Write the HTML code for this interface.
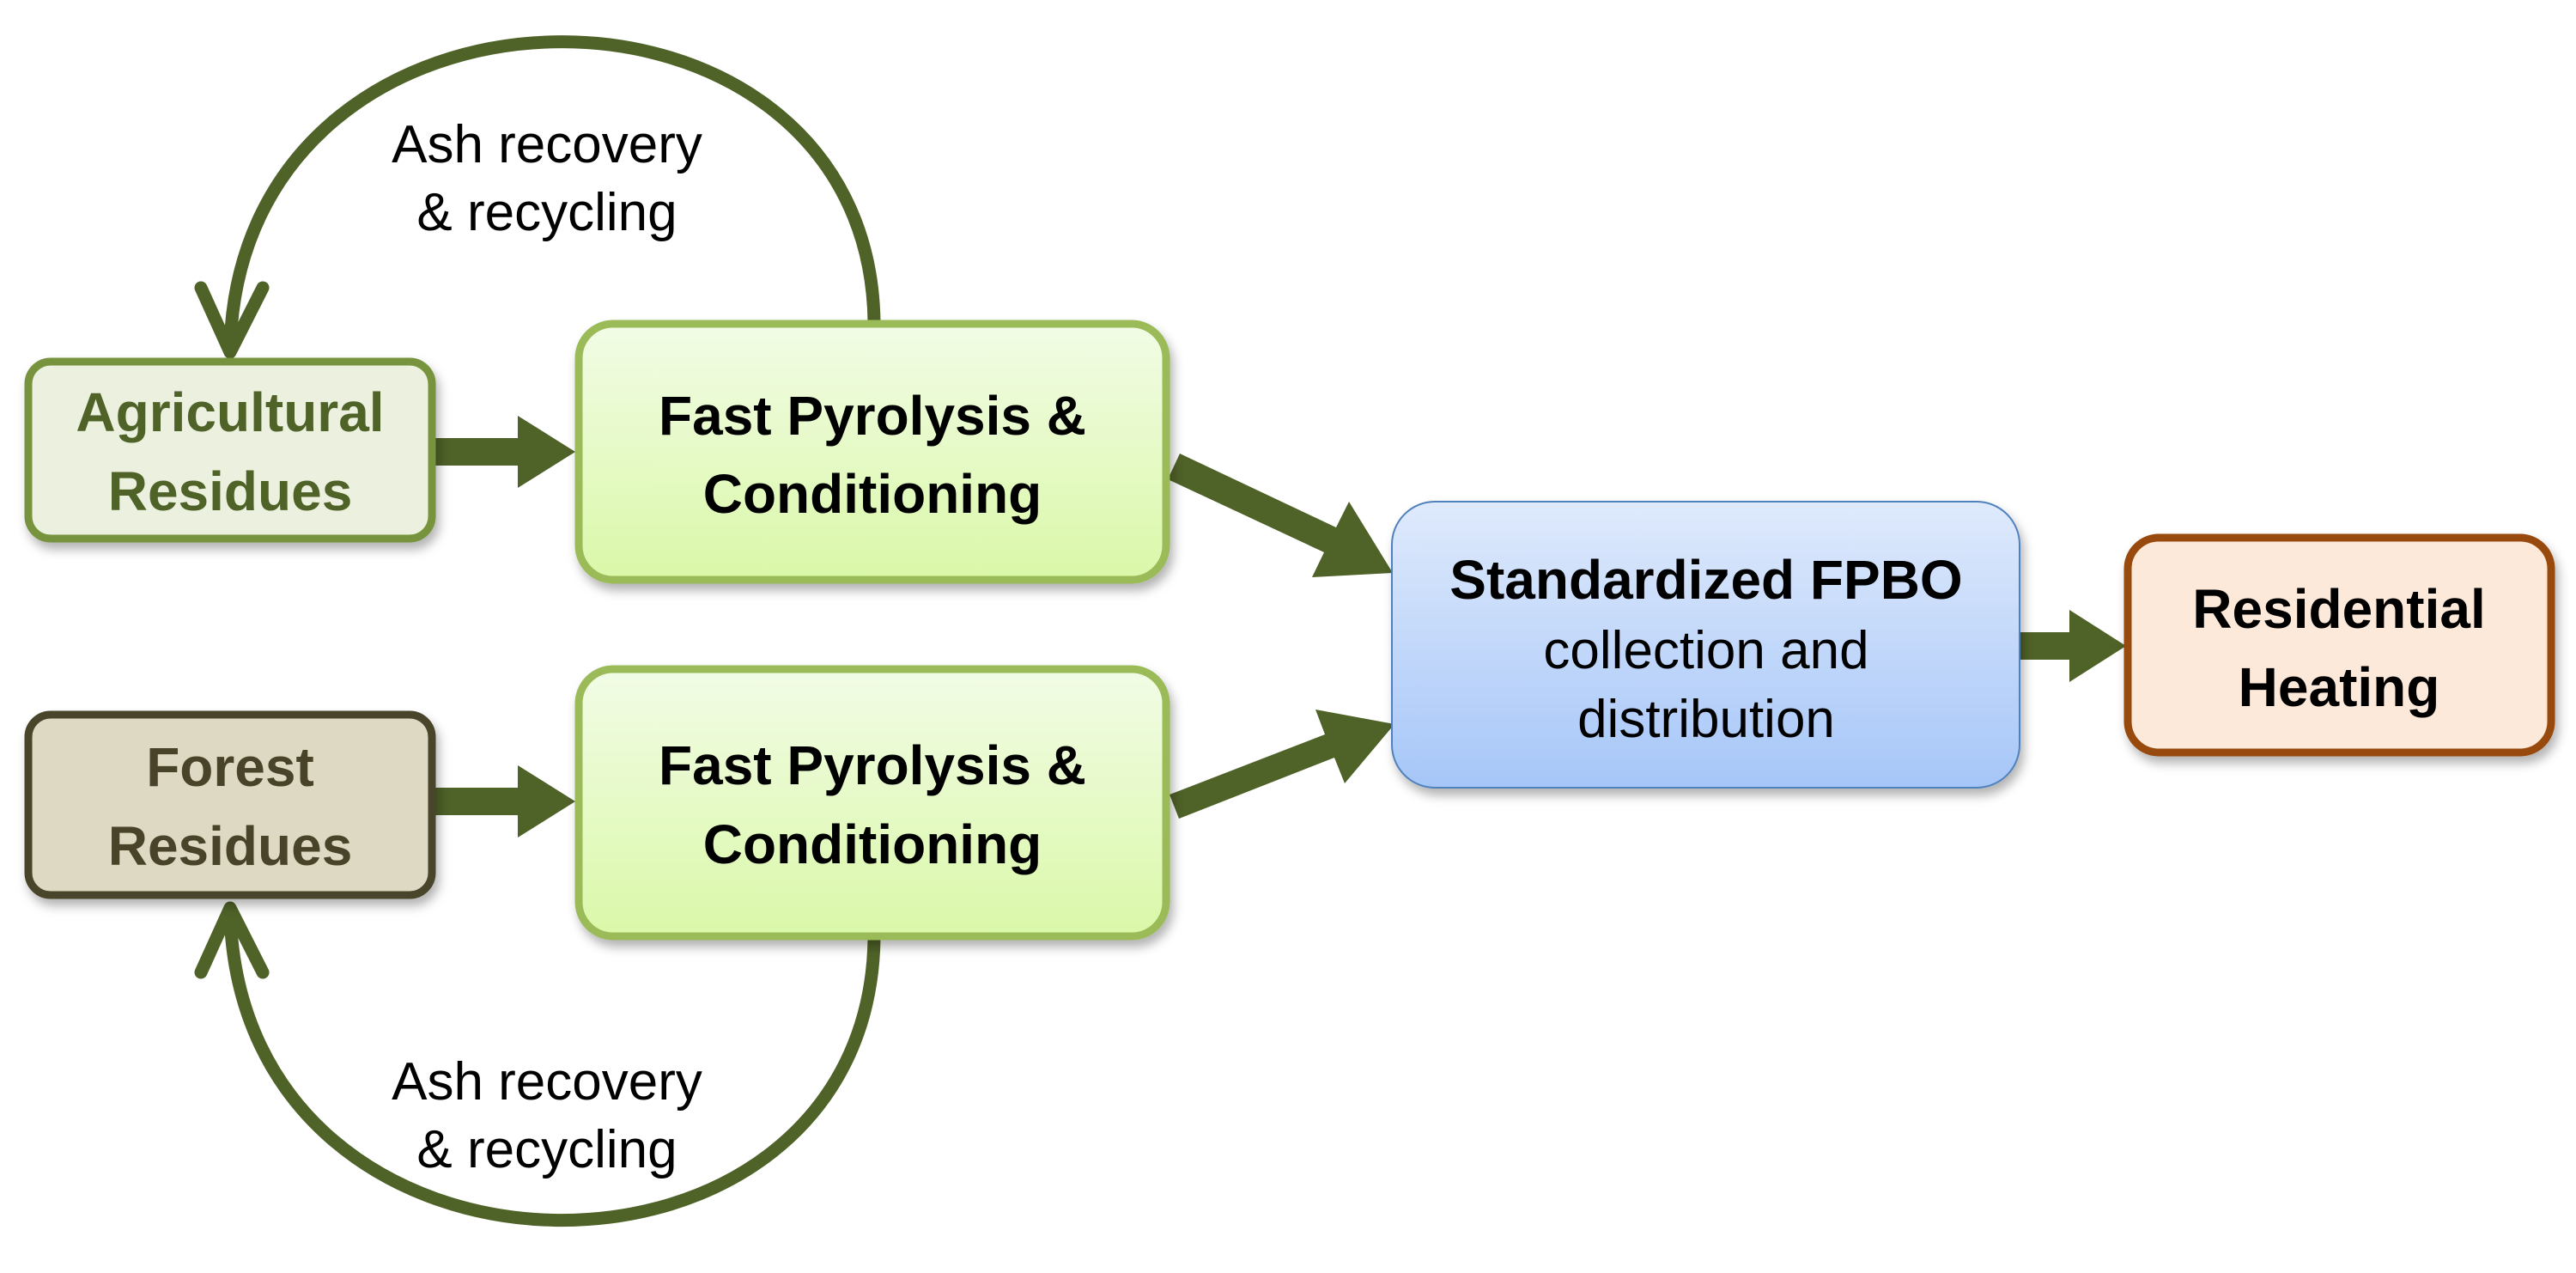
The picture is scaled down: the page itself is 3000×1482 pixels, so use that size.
<!DOCTYPE html>
<html><head><meta charset="utf-8"><style>
html,body{margin:0;padding:0;background:#fff;}
svg{display:block;}
text{font-family:"Liberation Sans",sans-serif;}
</style></head><body>
<svg width="3000" height="1482" viewBox="0 0 3000 1482" xmlns="http://www.w3.org/2000/svg">
<defs>
<linearGradient id="gfp" x1="0" y1="0" x2="0" y2="1"><stop offset="0" stop-color="#f2fce6"/><stop offset="1" stop-color="#daf8a8"/></linearGradient>
<linearGradient id="gb" x1="0" y1="0" x2="0" y2="1"><stop offset="0" stop-color="#dfeafc"/><stop offset="1" stop-color="#a6c6f8"/></linearGradient>
<filter id="sh" x="-10%" y="-10%" width="130%" height="130%"><feDropShadow dx="4" dy="8" stdDeviation="6" flood-color="#000" flood-opacity="0.3"/></filter>
</defs>
<g fill="none" stroke="#4f6228" stroke-width="15" stroke-linecap="round" stroke-linejoin="round">
<path d="M1018,375 C1012,-65 280,-65 268,405"/>
<path d="M234,335 L268,410 L306,335"/>
<path d="M1018,1092 C1012,1535 280,1535 268,1062"/>
<path d="M234,1132 L268,1057 L306,1132"/>
</g>
<g fill="#4f6228">
<polygon points="507,510 603,510 603,484 670,526 603,568 603,542 507,542"/>
<polygon points="507,917 603,917 603,891 670,933 603,975 603,949 507,949"/>
<polygon points="2353,736 2410,736 2410,710 2476,752 2410,794 2410,768 2353,768"/>
<polygon points="1360,558 1374,528 1556,614 1571,584 1622,667 1528,672 1542,643"/>
<polygon points="1362,925 1373,953 1554,882 1566,912 1624,843 1532,826 1543,855"/>
</g>
<rect x="33" y="421" width="470" height="206" rx="26" fill="#ebf1de" stroke="#77933c" stroke-width="9" filter="url(#sh)"/>
<rect x="33" y="832" width="470" height="210" rx="26" fill="#ddd9c3" stroke="#494429" stroke-width="9" filter="url(#sh)"/>
<rect x="674" y="377" width="684" height="298" rx="40" fill="url(#gfp)" stroke="#9bbb59" stroke-width="9" filter="url(#sh)"/>
<rect x="674" y="779" width="684" height="311" rx="40" fill="url(#gfp)" stroke="#9bbb59" stroke-width="9" filter="url(#sh)"/>
<rect x="1621" y="584" width="731" height="333" rx="50" fill="url(#gb)" stroke="#4f81bd" stroke-width="2" filter="url(#sh)"/>
<rect x="2478" y="626" width="493" height="250" rx="36" fill="#fde9d9" stroke="#984807" stroke-width="9" filter="url(#sh)"/>
<g text-anchor="middle" font-size="64" font-weight="bold">
<text x="268" y="502" fill="#4f6228">Agricultural</text>
<text x="268" y="594" fill="#4f6228">Residues</text>
<text x="268" y="915" fill="#494429">Forest</text>
<text x="268" y="1007" fill="#494429">Residues</text>
<text x="1016" y="506" fill="#000">Fast Pyrolysis &amp;</text>
<text x="1016" y="597" fill="#000">Conditioning</text>
<text x="1016" y="913" fill="#000">Fast Pyrolysis &amp;</text>
<text x="1016" y="1005" fill="#000">Conditioning</text>
<text x="1987" y="697" fill="#000">Standardized FPBO</text>
<text x="2724" y="731" fill="#000">Residential</text>
<text x="2724" y="822" fill="#000">Heating</text>
</g>
<g text-anchor="middle" font-size="62" fill="#000">
<text x="1987" y="778">collection and</text>
<text x="1987" y="858">distribution</text>
<text x="637" y="189">Ash recovery</text>
<text x="637" y="268">&amp; recycling</text>
<text x="637" y="1280">Ash recovery</text>
<text x="637" y="1359">&amp; recycling</text>
</g>
</svg>
</body></html>
